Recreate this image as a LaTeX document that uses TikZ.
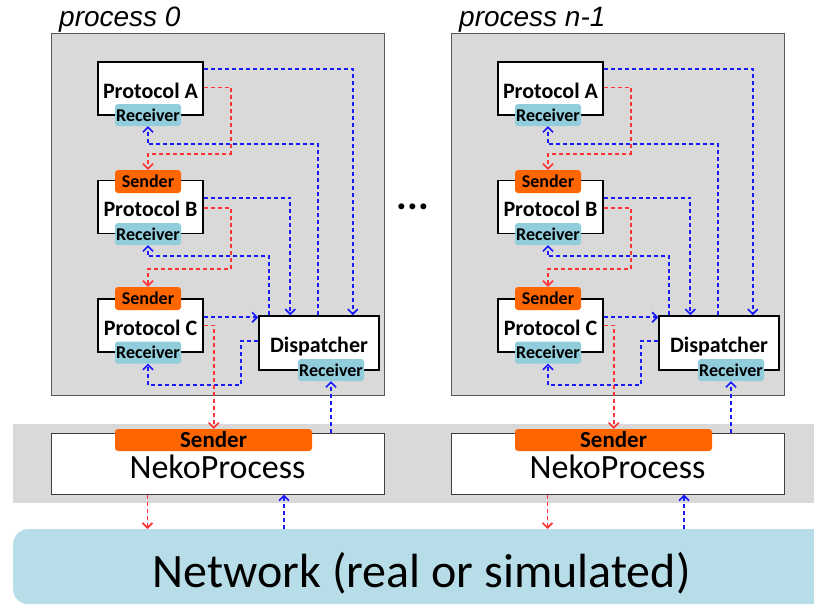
\documentclass[tikz,border=0pt]{standalone}
\usepackage{fontspec}
\setmainfont{Carlito}
\newfontfamily\arialfont{Liberation Sans}
\usetikzlibrary{arrows.meta,calc}

\definecolor{procgray}{HTML}{D9D9D9}
\definecolor{sndorange}{HTML}{FF6600}
\definecolor{rcvblue}{HTML}{92CDDC}
\definecolor{netblue}{HTML}{B7DEE8}
\definecolor{flowblue}{HTML}{1A1AFF}
\definecolor{flowred}{HTML}{FF3333}

\tikzset{
  procbox/.style={draw=black!65, fill=procgray, line width=1pt, minimum width=333pt, minimum height=362pt, inner sep=0pt},
  proclabel/.style={font=\arialfont\itshape\fontsize{28}{28}\selectfont, inner sep=0pt},
  protobox/.style={draw=black, fill=white, line width=1.5pt, minimum height=53pt, inner sep=0pt,
    text height=19pt, text depth=0pt, font=\fontsize{22}{22}\selectfont\bfseries},
  rcvbox/.style={fill=rcvblue, rounded corners=3pt, minimum width=66pt, minimum height=22pt, inner sep=0pt,
    font=\fontsize{18}{18}\selectfont\bfseries},
  sndbox/.style={fill=sndorange, rounded corners=3pt, minimum width=66pt, minimum height=23pt, inner sep=0pt,
    font=\fontsize{18}{18}\selectfont\bfseries},
  nekobox/.style={draw=black!75, fill=white, line width=1pt, minimum width=333pt, minimum height=61pt, inner sep=0pt,
    text height=29pt, text depth=0pt, font=\fontsize{34}{34}\selectfont},
  flowb/.style={color=flowblue, line width=1.8pt, dash pattern=on 4pt off 3pt,
    -{Straight Barb[length=5pt,width=10pt,line width=1.6pt]}},
  flowr/.style={color=flowred, line width=1.5pt, dash pattern=on 4pt off 3pt,
    -{Straight Barb[length=5pt,width=10pt,line width=1.6pt]}},
}

\begin{document}
\begin{tikzpicture}[x=1pt, y=-1pt]
    \useasboundingbox (0,0) rectangle (814,605);
    \clip (0,0) rectangle (814,605);

    % middle band and network
    \node[fill=procgray, minimum width=830pt, minimum height=79pt, inner sep=0pt, anchor=north west] (band) at (13,424) {};
    \node[fill=netblue, rounded corners=15pt, minimum width=817pt, minimum height=75pt, inner sep=0pt, anchor=north west,
        text height=45pt, text depth=4pt, font=\fontsize{48}{48}\selectfont] (net) at (13,529) {Network (real or simulated)};

    \node[font=\fontsize{40}{40}\selectfont\bfseries, inner sep=0pt] (dots) at (413,207) {...};

    \foreach \s/\t in {0/0, 400/n-1}{
        \node[procbox] (proc\s) at ({\s+217.5},214) {};
        \node[proclabel, anchor=base west] (lab\s) at ({\s+59},27) {process \t};

        % protocols
        \node[protobox, minimum width=105pt] (pa\s) at ({\s+150.5},88.5) {Protocol A};
        \node[protobox, minimum width=105pt] (pb\s) at ({\s+150.5},207) {Protocol B};
        \node[protobox, minimum width=105pt] (pc\s) at ({\s+150.5},325.5) {Protocol C};
        \node[protobox, minimum width=120pt, minimum height=54pt] (disp\s) at ({\s+319},343) {Dispatcher};

        \node[rcvbox] (ra\s) at ({\s+148},115) {Receiver};
        \node[rcvbox] (rb\s) at ({\s+148},234) {Receiver};
        \node[rcvbox] (rc\s) at ({\s+148},352.5) {Receiver};
        \node[rcvbox] (rd\s) at ({\s+331},370) {Receiver};
        \node[sndbox] (sb\s) at ({\s+148},181.5) {Sender};
        \node[sndbox] (sc\s) at ({\s+148},298.5) {Sender};

        % neko layer
        \node[nekobox] (neko\s) at ({\s+217.5},463.5) {NekoProcess};
        \node[sndbox, minimum width=197pt, minimum height=22pt, font=\fontsize{23}{23}\selectfont\bfseries] (nsnd\s) at ({\s+213.5},440) {Sender};

        % protocols -> dispatcher
        \draw[flowb] ([yshift=-8pt]pa\s.north east) -| ([xshift=-27pt]disp\s.north east);
        \draw[flowb] ([yshift=-18pt]pb\s.north east) -| ([xshift=32pt]disp\s.north west);
        \draw[flowb] ([yshift=-19pt]pc\s.north east) coordinate (cc\s) -- (cc\s -| disp\s.west);

        % dispatcher -> receivers
        \draw[flowb] ([xshift=60pt]disp\s.north west) |- ([yshift=-18pt]ra\s.south) -- (ra\s.south);
        \draw[flowb] ([xshift=11pt]disp\s.north west) |- ([yshift=-11pt]rb\s.south) -- (rb\s.south);
        \draw[flowb] ([yshift=2pt]disp\s.west) -- ++(-17,0) |- ([yshift=-21pt]rc\s.south) -- (rc\s.south);

        % protocol -> protocol below
        \draw[flowr] ([yshift=-26pt]pa\s.north east) -- ++(27,0) |- ([yshift=16pt]sb\s.north) -- (sb\s.north);
        \draw[flowr] ([yshift=-28pt]pb\s.north east) -- ++(27,0) |- ([yshift=18pt]sc\s.north) -- (sc\s.north);
        \draw[flowr] ([yshift=-27pt]pc\s.north east) -- ++(10,0) coordinate (bend\s) -- (bend\s |- nsnd\s.north);

        % neko <-> dispatcher, network
        \draw[flowb] (rd\s.south |- neko\s.north) -- (rd\s.south);
        \draw[flowr] ([xshift=97pt]neko\s.south west) coordinate (down\s) -- (down\s |- net.north);
        \draw[flowb] ([xshift=233.5pt]neko\s.south west |- net.north) -- ([xshift=233.5pt]neko\s.south west);
    }
\end{tikzpicture}
\end{document}
